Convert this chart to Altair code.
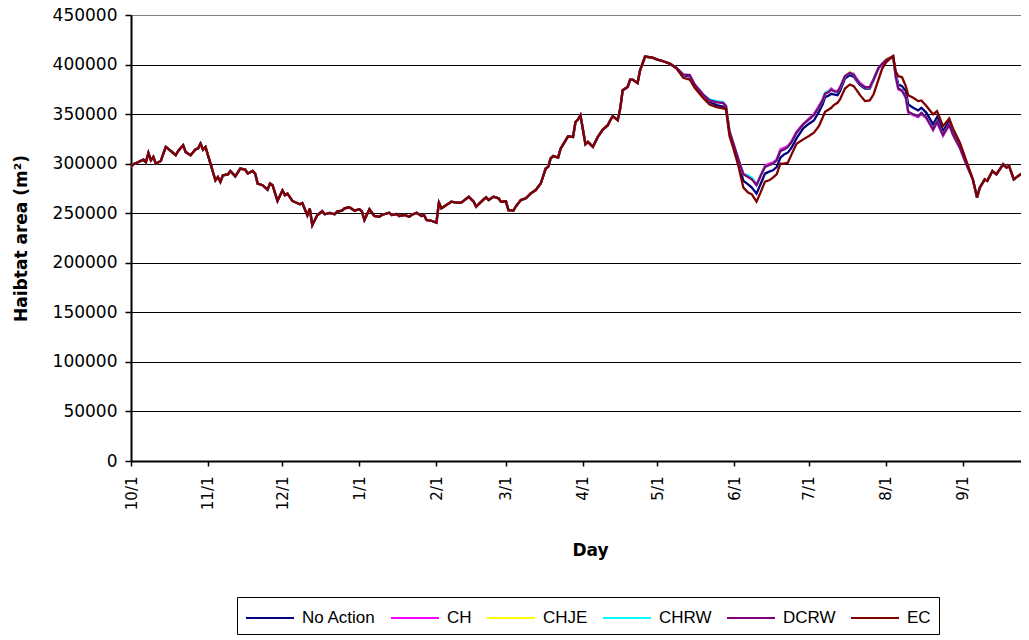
import json
import altair as alt
import pandas as pd

SERIES = ["No Action", "CH", "CHJE", "CHRW", "DCRW", "EC"]
COLORS = ["#000080", "#FF00FF", "#FFFF00", "#00FFFF", "#800080", "#800000"]

MONTH_TICKS = [0, 31, 61, 92, 123, 151, 182, 212, 243, 273, 304, 335]
MONTH_LABELS = ["10/1", "11/1", "12/1", "1/1", "2/1", "3/1", "4/1", "5/1", "6/1", "7/1", "8/1", "9/1"]
Y_TICKS = [0, 50000, 100000, 150000, 200000, 250000, 300000, 350000, 400000, 450000]

# Days since 10/1 where all scenarios coincide
COMMON_DAYS = [0, 1, 3, 5, 6, 7, 8, 9, 10, 12, 14, 16, 18, 19, 21, 22, 24, 26, 27, 28, 29, 30,
               32, 33, 34, 35, 36, 37, 39, 40, 42, 44, 46, 47, 49, 50, 51, 53, 55, 56, 57, 59,
               61, 62, 63, 65, 68, 69, 71, 72, 73, 75, 77, 78, 80, 82, 83, 85, 86, 88, 90, 92,
               93, 94, 96, 98, 100, 101, 104, 105, 107, 108, 110, 112, 113, 115, 117, 118, 119,
               121, 123, 124, 125, 127, 129, 131, 133, 136, 138, 139, 142, 143, 144, 146, 148,
               149, 151, 152, 154, 155, 157, 159, 161, 163, 165, 167, 168, 169, 170, 172, 173,
               176, 178, 179, 180, 181, 183, 184, 186, 188, 190, 192, 193, 194, 196, 197, 198,
               200, 201, 202, 204, 205, 207, 210, 212, 214, 217]
COMMON_VALUES = [297000, 299500, 301700, 304000, 301500, 310800, 303400, 306800, 300000, 302700,
                 316900, 312800, 308500, 312800, 318600, 311800, 308500, 314500, 315200, 320300,
                 314200, 316900, 300000, 291600, 283200, 286500, 281500, 288200, 289200, 292600,
                 287200, 295000, 294000, 290000, 292600, 290000, 279900, 278200, 273900, 279900,
                 278200, 262400, 273100, 268100, 269800, 262400, 259000, 260300, 247900, 254700,
                 237900, 247900, 252000, 248900, 250300, 248900, 251600, 252600, 255000, 256000,
                 252600, 254000, 251600, 243200, 254000, 247200, 246500, 248200, 250500, 248200,
                 249200, 247200, 248200, 246500, 248200, 250500, 247200, 248200, 243200, 242400,
                 240400, 260600, 255000, 258300, 261600, 260600, 260600, 266600, 261600, 256600,
                 264000, 266000, 263300, 266600, 265000, 261600, 262000, 253000, 252600, 257000,
                 263300, 265000, 270000, 273400, 280000, 295100, 296800, 305300, 307600, 306200,
                 315200, 327600, 327000, 342100, 344500, 348800, 319600, 322000, 317000, 327000,
                 334400, 338800, 343800, 347900, 343800, 355600, 374100, 377400, 384800, 384800,
                 381400, 394200, 408000, 407000, 405000, 403600, 400900]

# Period where the scenarios differ
DIV_DAYS = [219.7, 222.4, 225.0, 227.0, 230.4, 233.0, 235.8, 238.5, 239.6, 241.0, 242.5, 244.6,
            246.6, 248.5, 250.0, 251.9, 253.5, 255.3, 257.0, 258.5, 260.0, 261.5, 263.0, 264.5,
            266.0, 268.0, 270.7, 273.0, 275.0, 277.0, 278.5, 279.5, 281.0, 282.0, 283.0, 284.5,
            285.5, 287.5, 289.5, 291.0, 292.5, 293.6, 295.6, 297.5, 299.0, 301.0, 302.5, 304.2,
            306.9, 308.0, 309.0, 310.5, 312.0, 313.0, 315.0, 317.0, 318.3, 320.3, 323.0, 324.6,
            327.0, 329.5, 331.0, 333.8, 336.4, 339.0]
NO_ACTION = [396600, 389300, 387900, 379200, 368800, 362400, 359100, 357700, 356400, 331200,
             318800, 301000, 282600, 279200, 275800, 269800, 279200, 289900, 292000, 293300,
             296600, 306000, 309400, 311100, 316100, 325500, 335600, 340300, 343600, 352300,
             359700, 367100, 368800, 370500, 369800, 369100, 373200, 385900, 389300, 387900,
             382600, 379200, 375800, 375800, 383900, 396000, 400000, 404700, 408400, 389900,
             379900, 378200, 373200, 359700, 356400, 353700, 356400, 351300, 339600, 347000,
             332900, 343000, 332900, 317800, 300700, 284200]
CH = [396600, 389900, 389300, 379900, 369800, 363800, 362100, 361100, 358100, 332900,
      321100, 304400, 289900, 287600, 285200, 278500, 287600, 297700, 300000, 301000,
      304400, 314400, 316100, 317800, 322800, 332200, 340300, 345600, 350300, 358100,
      364800, 371500, 373200, 375800, 373800, 373200, 377200, 388300, 391600, 390600,
      384900, 381500, 377500, 377200, 384900, 396000, 400700, 405000, 408400, 386600,
      374800, 373200, 366400, 351300, 349000, 347000, 350300, 345600, 333600, 341300,
      327900, 338900, 328900, 315400, 298700, 284200]
CHJE = [396600, 389900, 389300, 379900, 369800, 363800, 362100, 361100, 358100, 332900,
        321100, 304400, 289300, 286600, 284200, 278500, 287600, 296600, 298700, 300000,
        303400, 312800, 314400, 316800, 321800, 331200, 339600, 344600, 349000, 357100,
        363800, 370500, 372200, 374800, 373200, 372500, 376500, 388300, 392600, 389900,
        383900, 380500, 377200, 377200, 384900, 396600, 400700, 406000, 408400, 387200,
        375800, 373800, 367100, 352300, 349700, 348000, 351300, 346300, 334600, 342300,
        328900, 339600, 329500, 316100, 299300, 284200]
CHRW = [396600, 389900, 389300, 379900, 369800, 364800, 363100, 362100, 358100, 332900,
        321100, 304400, 289300, 288300, 285900, 278500, 287600, 296600, 298700, 300000,
        303400, 312800, 314400, 316800, 321800, 331200, 339600, 344600, 349000, 357100,
        363800, 371500, 373200, 374800, 373200, 372500, 376500, 388300, 391600, 389900,
        383900, 380500, 377200, 377200, 384900, 396600, 400700, 405000, 408400, 387200,
        375800, 373800, 367100, 352300, 349700, 348000, 351300, 346300, 334600, 342300,
        328900, 339600, 329500, 316100, 299300, 284200]
DCRW = [396600, 389900, 389300, 379900, 369800, 363800, 362100, 361100, 358100, 332900,
        321100, 304400, 289300, 286600, 284200, 278500, 287600, 296600, 298700, 300000,
        303400, 312800, 314400, 316800, 321800, 331200, 339600, 344600, 349000, 357100,
        363800, 370500, 372200, 374800, 373200, 372500, 376500, 388300, 391600, 389900,
        383900, 380500, 377200, 377200, 384900, 396600, 400700, 405000, 408400, 387200,
        375800, 373800, 367100, 352300, 349700, 348000, 351300, 346300, 334600, 342300,
        328900, 339600, 329500, 316100, 299300, 284200]
EC = [396000, 386600, 384900, 376500, 366400, 359700, 357100, 355700, 354700, 327900,
      316100, 297700, 275800, 270800, 269100, 261700, 270800, 281900, 283200, 285900,
      289300, 300000, 300000, 301000, 309400, 320100, 324500, 327900, 331200, 337900,
      346300, 352300, 354700, 356400, 359100, 361400, 364800, 375800, 379900, 378200,
      373200, 369100, 363100, 363800, 369800, 384900, 396000, 402700, 408400, 392600,
      388300, 387200, 378200, 369100, 366400, 363100, 363800, 358100, 349700, 353000,
      337900, 345600, 335600, 321100, 302700, 284200]

# Late September, all scenarios coincide again
TAIL_DAYS = [340.7, 341.8, 343.8, 344.8, 346.9, 348.5, 351.2, 352.6, 353.6, 355.5, 357.3, 359.3, 361.3]
TAIL_VALUES = [265800, 275800, 284200, 282600, 292600, 289300, 299300, 296000, 297700, 284200,
               287600, 290900, 294300]

SCEN = {"No Action": NO_ACTION, "CH": CH, "CHJE": CHJE, "CHRW": CHRW, "DCRW": DCRW, "EC": EC}

rows = []
for name in SERIES:
    for d, v in zip(COMMON_DAYS, COMMON_VALUES):
        rows.append({"day": d, "value": v, "series": name})
    for d, v in zip(DIV_DAYS, SCEN[name]):
        rows.append({"day": d, "value": v, "series": name})
    for d, v in zip(TAIL_DAYS, TAIL_VALUES):
        rows.append({"day": d, "value": v, "series": name})
df = pd.DataFrame(rows)

label_expr = "{}[indexof({}, datum.value)]".format(json.dumps(MONTH_LABELS), json.dumps(MONTH_TICKS))

x_enc = alt.X(
    "day:Q",
    scale=alt.Scale(domain=[0, 358.4], nice=False, zero=False),
    axis=alt.Axis(values=MONTH_TICKS, labelExpr=label_expr, labelAngle=270, grid=False,
                  tickSize=5, labelPadding=10, title="Day", titleX=459, titleY=89,
                  titleBaseline="middle", titleAlign="center", labelFontSize=15),
)
y_enc = alt.Y(
    "value:Q",
    scale=alt.Scale(domain=[0, 450000], nice=False),
    axis=alt.Axis(values=Y_TICKS, format="d", tickSize=6, labelPadding=8, grid=True,
                  gridColor={"condition": {"test": "datum.value >= 450000", "value": "#808080"},
                             "value": "#000000"},
                  title="Haibtat area (m²)", titleX=-110, titleY=223, titleAngle=270,
                  titleBaseline="middle", titleAlign="center", labelFontSize=17),
)
color_enc = alt.Color(
    "series:N",
    scale=alt.Scale(domain=SERIES, range=COLORS),
    legend=alt.Legend(title=None, orient="none", legendX=106, legendY=582, direction="horizontal",
                      symbolType="M-1,0H3", symbolSize=576, symbolStrokeWidth=2,
                      labelFont="Liberation Sans", labelFontSize=17, labelColor="black",
                      labelOffset=31, columnPadding=11, padding=8, strokeColor="black"),
)

layers = []
for name in SERIES:
    layers.append(
        alt.Chart(df)
        .transform_filter(alt.datum.series == name)
        .mark_line(strokeWidth=2.3, clip=True)
        .encode(x=x_enc, y=y_enc, color=color_enc)
    )

chart = (
    alt.layer(*layers)
    .properties(width=890, height=446, autosize=alt.AutoSizeParams(type="none"),
                padding={"left": 123, "top": 7, "right": 0, "bottom": 177}, background="white")
    .configure_view(strokeWidth=0)
    .configure_axis(domainColor="black", domainWidth=2, tickColor="black", tickWidth=1.5,
                    labelFont="DejaVu Sans", labelColor="black", titleFont="DejaVu Sans",
                    titleFontWeight="bold", titleFontSize=17, titleColor="black", gridWidth=1)
)

chart.save("out.html", embed_options={"renderer": "svg", "actions": False})
